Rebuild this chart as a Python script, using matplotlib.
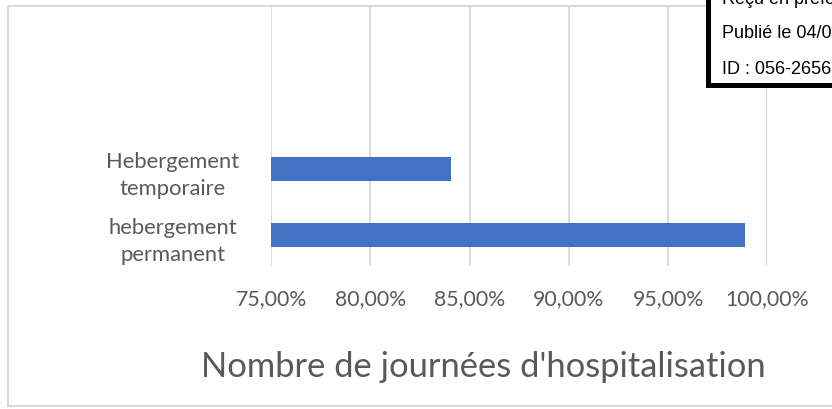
import matplotlib
matplotlib.use("Agg")
import matplotlib.pyplot as plt
from matplotlib.patches import Rectangle
from matplotlib.ticker import FuncFormatter

categories = ["hebergement\npermanent", "Hebergement\ntemporaire"]
values = [98.87, 84.05]
xticks = [75, 80, 85, 90, 95, 100]
title = "Nombre de journées d'hospitalisation"
stamp_lines = ["Reçu en préfe", "Publié le 04/0", "ID : 056-2656"]

W, H = 832, 410
fig = plt.figure(figsize=(W / 100, H / 100), dpi=100)
font = "Lato"
gray = "#595959"

def fx(px):
    return px / W

def fy(py):
    return 1 - py / H

# outer chart border
fig.patches.append(Rectangle((fx(8), fy(407)), fx(900) - fx(8), fy(7) - fy(407),
                             transform=fig.transFigure, facecolor="white",
                             edgecolor="#d9d9d9", linewidth=1.5, zorder=-5))

left, right, top, bottom = 271, 767.3, 8, 267
ax = fig.add_axes([fx(left), fy(bottom), fx(right) - fx(left), fy(top) - fy(bottom)])
ax.set_facecolor("none")
ypos = list(range(len(categories)))
ax.barh(ypos, [v - 75 for v in values], left=75, height=0.36, color="#4472c4", zorder=3)
ax.set_xlim(75, 100)
ax.set_ylim(-0.47, 3.45)
ax.set_xticks(xticks)
ax.xaxis.set_major_formatter(FuncFormatter(lambda v, p: f"{v:.2f}".replace(".", ",") + "%"))
ax.set_yticks(ypos)
ax.set_yticklabels(categories, fontfamily=font, fontsize=15.8, color=gray,
                   ha="center", linespacing=1.45)
ax.tick_params(axis="y", length=0, pad=70.6)
ax.tick_params(axis="x", length=0, pad=16, labelsize=15.3, labelcolor=gray)
for lab in ax.get_xticklabels():
    lab.set_fontfamily(font)
for s in ax.spines.values():
    s.set_visible(False)
ax.grid(axis="x", color="#d9d9d9", linewidth=1.3, zorder=0)
ax.grid(axis="y", visible=False)

fig.text(fx(483), fy(367), title, ha="center", va="center", fontfamily=font,
         fontsize=24.8, color=gray)

# stamp box
fig.patches.append(Rectangle((fx(707.5), fy(85.5)), fx(900) - fx(707.5), fy(-20) - fy(85.5),
                             transform=fig.transFigure, facecolor="white",
                             edgecolor="black", linewidth=3.6, zorder=10))
for i, (line, y) in enumerate(zip(stamp_lines, [-1, 34, 70])):
    fig.text(fx(722), fy(y), line, ha="left", va="center", fontfamily="Liberation Sans",
             fontsize=13, color="black", zorder=11)

fig.savefig("out.png", dpi=100)
